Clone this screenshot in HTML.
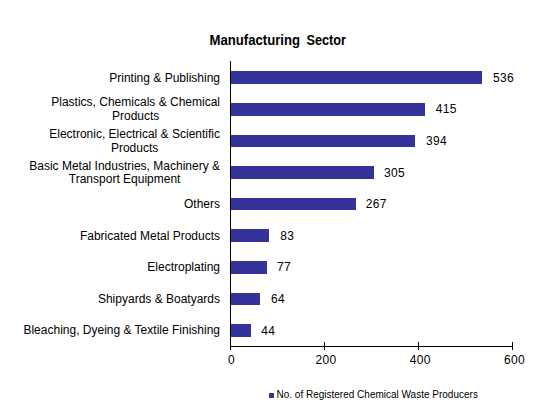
<!DOCTYPE html>
<html><head><meta charset="utf-8"><style>
html,body{margin:0;padding:0;background:#fff;width:543px;height:413px;overflow:hidden;}
svg{display:block;}
text{font-family:"Liberation Sans",sans-serif;font-size:12px;fill:#000;}
.t{font-weight:bold;font-size:14px;}
.v{letter-spacing:0.33px;}
</style></head><body>
<svg width="543" height="413" viewBox="0 0 543 413" shape-rendering="crispEdges">
<rect width="543" height="413" fill="#fff"/>
<text class="t" x="209.5" y="45" textLength="90.5" lengthAdjust="spacingAndGlyphs">Manufacturing</text>
<text class="t" x="306.5" y="45" textLength="39.5" lengthAdjust="spacingAndGlyphs">Sector</text>
<rect x="231" y="71" width="251" height="13" fill="#333399"/>
<text x="220" y="82" text-anchor="end">Printing &amp; Publishing</text>
<text class="v" x="492.90" y="82">536</text>
<rect x="231" y="103" width="194" height="13" fill="#333399"/>
<text x="135.64" y="106" text-anchor="middle">Plastics, Chemicals &amp; Chemical</text>
<text x="135.64" y="120" text-anchor="middle">Products</text>
<text class="v" x="435.75" y="113">415</text>
<rect x="231" y="135" width="184" height="12" fill="#333399"/>
<text x="134.63" y="138" text-anchor="middle">Electronic, Electrical &amp; Scientific</text>
<text x="134.63" y="152" text-anchor="middle">Products</text>
<text class="v" x="426.00" y="145">394</text>
<rect x="231" y="166" width="143" height="13" fill="#333399"/>
<text x="124.62" y="170" text-anchor="middle">Basic Metal Industries, Machinery &amp;</text>
<text x="124.62" y="183" text-anchor="middle">Transport Equipment</text>
<text class="v" x="384.10" y="177">305</text>
<rect x="231" y="198" width="125" height="12" fill="#333399"/>
<text x="220" y="208" text-anchor="end">Others</text>
<text class="v" x="365.75" y="208">267</text>
<rect x="231" y="229" width="38" height="13" fill="#333399"/>
<text x="220" y="240" text-anchor="end">Fabricated Metal Products</text>
<text class="v" x="280.20" y="240">83</text>
<rect x="231" y="261" width="36" height="13" fill="#333399"/>
<text x="220" y="271" text-anchor="end">Electroplating</text>
<text class="v" x="277.10" y="271">77</text>
<rect x="231" y="293" width="29" height="12" fill="#333399"/>
<text x="220" y="303" text-anchor="end">Shipyards &amp; Boatyards</text>
<text class="v" x="271.10" y="303">64</text>
<rect x="231" y="324" width="20" height="13" fill="#333399"/>
<text x="220" y="334" text-anchor="end">Bleaching, Dyeing &amp; Textile Finishing</text>
<text class="v" x="261.25" y="335">44</text>
<rect x="230" y="61" width="1" height="289" fill="#000"/>
<rect x="230" y="346" width="283" height="1" fill="#000"/>
<text class="v" x="231.5" y="364" text-anchor="middle">0</text>
<rect x="324" y="342" width="1" height="8" fill="#000"/>
<text class="v" x="326" y="364" text-anchor="middle">200</text>
<rect x="418" y="342" width="1" height="8" fill="#000"/>
<text class="v" x="420.2" y="364" text-anchor="middle">400</text>
<rect x="512" y="342" width="1" height="8" fill="#000"/>
<text class="v" x="514.5" y="364" text-anchor="middle">600</text>
<rect x="269" y="393" width="5" height="5" fill="#333399"/>
<text x="276.5" y="398" style="font-size:10px">No. of Registered Chemical Waste Producers</text>
</svg>
</body></html>
